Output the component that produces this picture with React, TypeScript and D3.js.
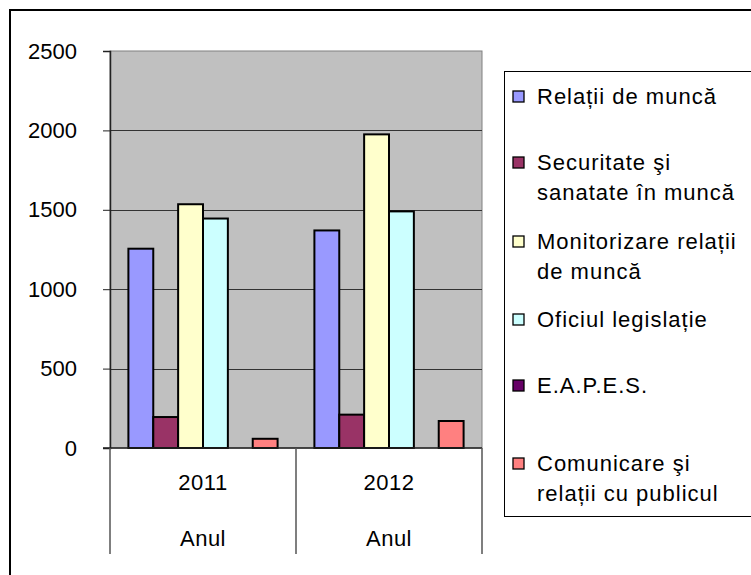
import { useEffect, useRef } from 'react';
import * as d3 from 'd3';

const years = ['2011', '2012'];
const groupLabel = 'Anul';
const seriesNames = [
  'Relații de muncă',
  'Securitate şi sanatate în muncă',
  'Monitorizare relații de muncă',
  'Oficiul legislație',
  'E.A.P.E.S.',
  'Comunicare şi relații cu publicul',
];
// legend lines (as wrapped in the original)
const legendLines = [
  ['Relații de muncă'],
  ['Securitate şi', 'sanatate în muncă'],
  ['Monitorizare relații', 'de muncă'],
  ['Oficiul legislație'],
  ['E.A.P.E.S.'],
  ['Comunicare şi', 'relații cu publicul'],
];
const values2011 = [1255, 195, 1535, 1445, 0, 58];
const values2012 = [1370, 210, 1975, 1490, 0, 170];
const yTicks = [0, 500, 1000, 1500, 2000, 2500];
const colors = ['#9999FF', '#993366', '#FFFFCC', '#CCFFFF', '#660066', '#FF8080'];

function App() {
  const svgRef = useRef<SVGSVGElement>(null);

  useEffect(() => {
    const svg = d3.select(svgRef.current);
    svg.selectAll('*').remove();

    const font = 'Liberation Sans, Arial, sans-serif';
    const left = 110,
      right = 482,
      top = 51,
      bottom = 448;

    // outer chart frame
    svg
      .append('rect')
      .attr('x', 10)
      .attr('y', 10)
      .attr('width', 900)
      .attr('height', 700)
      .attr('fill', 'white')
      .attr('stroke', 'black')
      .attr('stroke-width', 2);

    const y = d3.scaleLinear().domain([0, 2500]).range([bottom, top]);
    const x = d3.scaleBand().domain(years).range([left, right]);
    const xs = d3
      .scaleBand()
      .domain(seriesNames)
      .range([0, x.bandwidth()])
      .paddingInner(0)
      .paddingOuter(0.74);

    // plot area
    svg
      .append('rect')
      .attr('x', left)
      .attr('y', top)
      .attr('width', right - left)
      .attr('height', bottom - top)
      .attr('fill', '#C0C0C0')
      .attr('stroke', '#808080')
      .attr('stroke-width', 1);

    // grid lines
    svg
      .append('g')
      .selectAll('line')
      .data(yTicks.filter((d) => d > 0 && d < 2500))
      .join('line')
      .attr('x1', left)
      .attr('x2', right)
      .attr('y1', (d) => Math.round(y(d)) + 0.5)
      .attr('y2', (d) => Math.round(y(d)) + 0.5)
      .attr('stroke', '#333')
      .attr('stroke-width', 1);

    // bars
    const rows = [values2011, values2012];
    years.forEach((yr, i) => {
      const data = rows[i]
        .map((v, j) => ({ name: seriesNames[j], value: v, color: colors[j] }))
        .filter((d) => d.value > 0);
      svg
        .append('g')
        .attr('transform', `translate(${x(yr)},0)`)
        .selectAll('rect')
        .data(data)
        .join('rect')
        .attr('x', (d) => xs(d.name)!)
        .attr('y', (d) => y(d.value))
        .attr('width', xs.bandwidth())
        .attr('height', (d) => bottom - y(d.value))
        .attr('fill', (d) => d.color)
        .attr('stroke', 'black')
        .attr('stroke-width', 2);
    });

    // y axis
    const yAxis = svg
      .append('g')
      .attr('transform', `translate(${left},0)`)
      .call(
        d3.axisLeft(y).tickValues(yTicks).tickFormat(d3.format('d')).tickSize(7).tickPadding(26),
      );
    yAxis.select('.domain').attr('stroke', '#222').attr('stroke-width', 1.5);
    yAxis.selectAll('line').attr('stroke', '#222');
    yAxis
      .selectAll('text')
      .attr('font-family', font)
      .attr('font-size', 22)
      .attr('fill', 'black');

    // x axis line + category separators
    svg
      .append('line')
      .attr('x1', left - 7)
      .attr('x2', right)
      .attr('y1', bottom)
      .attr('y2', bottom)
      .attr('stroke', '#222')
      .attr('stroke-width', 1.5);

    svg
      .append('g')
      .selectAll('line')
      .data([...years.map((d) => x(d)!), right])
      .join('line')
      .attr('x1', (d) => d)
      .attr('x2', (d) => d)
      .attr('y1', bottom)
      .attr('y2', 554)
      .attr('stroke', '#555')
      .attr('stroke-width', 1.5);

    const catLabels = svg
      .append('g')
      .attr('font-family', font)
      .attr('font-size', 22)
      .attr('letter-spacing', 0.5);
    years.forEach((yr) => {
      const cx = x(yr)! + x.bandwidth() / 2;
      catLabels.append('text').attr('x', cx).attr('y', 490).attr('text-anchor', 'middle').text(yr);
      catLabels.append('text').attr('x', cx).attr('y', 546).attr('text-anchor', 'middle').text(groupLabel);
    });

    // legend
    svg
      .append('rect')
      .attr('x', 504.5)
      .attr('y', 71.5)
      .attr('width', 400)
      .attr('height', 445)
      .attr('fill', 'white')
      .attr('stroke', 'black')
      .attr('stroke-width', 1);

    const legendY = [96, 162, 241, 319, 385, 463];
    const leg = svg
      .append('g')
      .attr('font-family', font)
      .attr('font-size', 22)
      .attr('letter-spacing', 1);
    legendLines.forEach((lines, i) => {
      leg
        .append('rect')
        .attr('x', 513)
        .attr('y', legendY[i] - 5)
        .attr('width', 11)
        .attr('height', 11)
        .attr('fill', colors[i])
        .attr('stroke', 'black')
        .attr('stroke-width', 1.3);
      lines.forEach((t, k) => {
        leg
          .append('text')
          .attr('x', 537)
          .attr('y', legendY[i] + k * 30)
          .attr('dy', '0.35em')
          .text(t);
      });
    });
  }, []);

  return (
    <svg
      ref={svgRef}
      width={751}
      height={575}
      style={{ position: 'absolute', left: 0, top: 0, background: 'white' }}
    />
  );
}

export default App;
